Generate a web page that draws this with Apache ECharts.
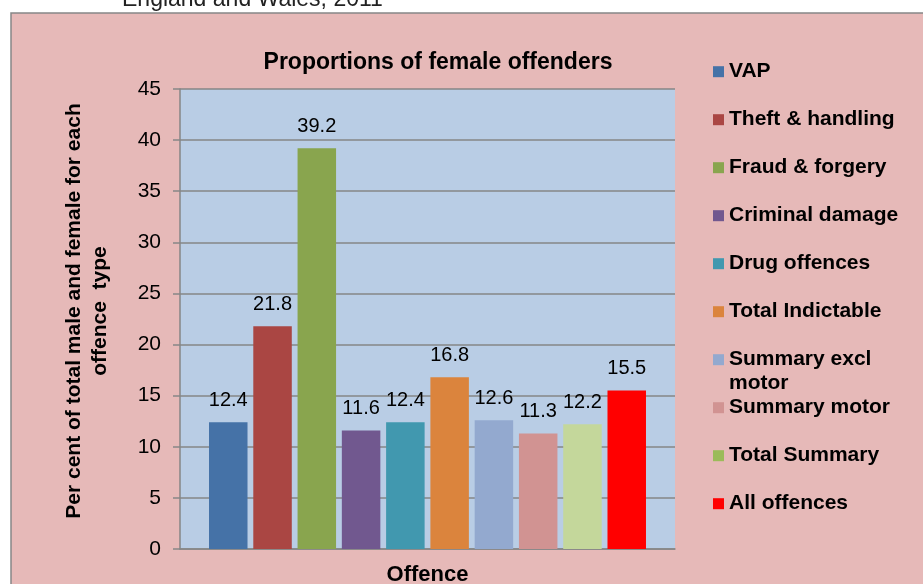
<!DOCTYPE html>
<html><head><meta charset="utf-8">
<script src="https://cdn.jsdelivr.net/npm/echarts@6/dist/echarts.min.js"></script>
<style>html,body{margin:0;padding:0;background:#fff}#c{width:923px;height:584px}</style>
</head><body><div id="c"></div>
<script>
const categories = ['Offence'];
const seriesNames = ['VAP', 'Theft & handling', 'Fraud & forgery', 'Criminal damage', 'Drug offences',
  'Total Indictable', 'Summary excl motor', 'Summary motor', 'Total Summary', 'All offences'];
const values = [12.4, 21.8, 39.2, 11.6, 12.4, 16.8, 12.6, 11.3, 12.2, 15.5];
const yMin = 0, yMax = 45, yStep = 5;
const barColors = ['#4572a7', '#aa4643', '#89a54e', '#71588f', '#4198af', '#db843d', '#93a9cf', '#d19392', '#c4d79b', '#ff0000'];
const legendColors = ['#4572a7', '#aa4643', '#89a54e', '#71588f', '#4198af', '#db843d', '#93a9cf', '#d19392', '#9bbb59', '#ff0000'];
const titleText = 'Proportions of female offenders';
const topText = 'England and Wales, 2011';
const yName = 'Per cent of total male and female for each\noffence  type';
const xName = 'Offence';

const FONT = "'Liberation Sans', Arial, sans-serif";
const chart = echarts.init(document.getElementById('c'), null, {renderer: 'canvas'});

const legendStep = 48, legendFirstCenter = 71.7;
const legends = seriesNames.map((name, i) => {
  const wrapped = name === 'Summary excl motor';
  const center = legendFirstCenter + i * legendStep;
  return {
    orient: 'vertical',
    left: 713,
    top: wrapped ? center - 36 : center - 10.5,
    padding: 0,
    itemWidth: 11,
    itemHeight: 11,
    selectedMode: false,
    icon: 'rect',
    formatter: n => n === 'Summary excl motor' ? '\nSummary excl\nmotor' : n,
    textStyle: wrapped
      ? {fontFamily: FONT, fontSize: 21, fontWeight: 'bold', color: '#000', lineHeight: 24}
      : {fontFamily: FONT, fontSize: 21, fontWeight: 'bold', color: '#000'},
    data: [{name: name, itemStyle: {color: legendColors[i]}}]
  };
});

const option = {
  backgroundColor: '#ffffff',
  animation: false,
  graphic: [
    {type: 'rect', z: -100, shape: {x: 11, y: 13, width: 1000, height: 1000},
     style: {fill: '#e6b9b8', stroke: '#868686', lineWidth: 1.5}},
    {type: 'text', z: -50, x: 122, y: 0,
     style: {text: topText, font: '23px ' + FONT, fill: '#222', verticalAlign: 'middle', align: 'left'}}
  ],
  title: {
    text: titleText, left: 438, top: 51, textAlign: 'center', padding: 0,
    textStyle: {fontFamily: FONT, fontSize: 23, fontWeight: 'bold', color: '#000'}
  },
  legend: legends,
  grid: {left: 180, right: 248, top: 89, bottom: 35, show: true, backgroundColor: '#b9cde5', borderWidth: 0,
         containLabel: false, outerBoundsMode: 'none'},
  xAxis: {
    type: 'category', data: categories,
    name: xName, nameLocation: 'middle', nameGap: 15,
    nameTextStyle: {fontFamily: FONT, fontSize: 22, fontWeight: 'bold', color: '#000'},
    axisLine: {lineStyle: {color: '#868686', width: 1.5}},
    axisTick: {show: false}, axisLabel: {show: false}
  },
  yAxis: {
    type: 'value', min: yMin, max: yMax, interval: yStep,
    name: yName, nameLocation: 'middle', nameGap: 67, nameRotate: 90,
    nameTextStyle: {fontFamily: FONT, fontSize: 21, fontWeight: 'bold', color: '#000', lineHeight: 26, align: 'center', padding: [0, 0, 0, 16]},
    axisLine: {show: true, lineStyle: {color: '#868686', width: 1.5}},
    axisTick: {show: true, inside: false, length: 7, lineStyle: {color: '#868686', width: 1.5}},
    axisLabel: {fontFamily: FONT, fontSize: 21, color: '#000', margin: 19},
    splitLine: {show: true, lineStyle: {color: '#868686', width: 1.5}}
  },
  series: seriesNames.map((name, i) => ({
    type: 'bar', name: name,
    data: [values[i]],
    barWidth: 38.5, barGap: '15%',
    itemStyle: {color: barColors[i]},
    label: {show: true, position: 'top', distance: 12, fontFamily: FONT, fontSize: 20, color: '#000'}
  }))
};
chart.setOption(option);
</script></body></html>
